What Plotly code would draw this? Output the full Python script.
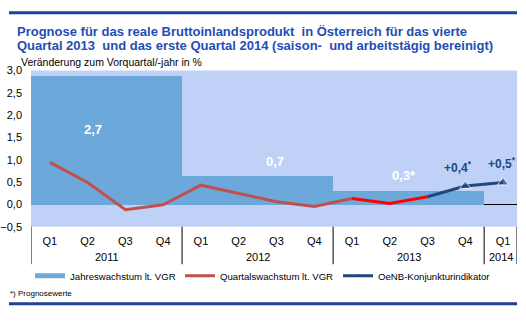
import plotly.graph_objects as go

# ---------------- data ----------------
years = ["2011", "2012", "2013", "2014"]
quarters_per_year = [4, 4, 4, 1]
quarter_labels = ["Q1", "Q2", "Q3", "Q4", "Q1", "Q2", "Q3", "Q4", "Q1", "Q2", "Q3", "Q4", "Q1"]
annual_growth = [2.88, 0.65, 0.31]          # Jahreswachstum lt. VGR (bar heights)
annual_labels = ["2,7", "0,7", "0,3*"]
qoq_growth = [0.94, 0.49, -0.12, -0.01, 0.43, 0.24, 0.06, -0.05, 0.13, 0.02, 0.17]  # Quartalswachstum lt. VGR
oenb_indicator = [0.17, 0.41, 0.49]        # OeNB-Konjunkturindikator (Q3 2013 .. Q1 2014)
oenb_labels = ["+0,4<sup>*</sup>", "+0,5<sup>*</sup>"]

# ---------------- geometry helpers ----------------
W, H = 526, 329
px = lambda v: v / W
py = lambda v: 1 - v / H

x_idx = list(range(len(quarter_labels)))
x_end = 12.37
starts = []
s = 0
for n in quarters_per_year:
    starts.append(s)
    s += n
bar_x = [starts[i] + (quarters_per_year[i] - 1) / 2 for i in range(len(annual_growth))]
bar_w = [quarters_per_year[i] for i in range(len(annual_growth))]

BG = "#BFD1F7"
BAR = "#6CA8DA"
DRED = "#C0504D"
RED = "#FF0000"
NAVY = "#1F497D"
TITLE = "#1F4EB4"
FONT = "Liberation Sans, Arial, sans-serif"

fig = go.Figure()

fig.add_trace(go.Bar(x=bar_x, y=annual_growth, width=bar_w, marker=dict(color=BAR, line=dict(width=0)),
                     showlegend=False, hoverinfo="skip"))

n_dark = 9
fig.add_trace(go.Scatter(x=x_idx[:n_dark], y=qoq_growth[:n_dark], mode="lines",
                         line=dict(color=DRED, width=3), showlegend=False))
fig.add_trace(go.Scatter(x=x_idx[n_dark - 1:len(qoq_growth)], y=qoq_growth[n_dark - 1:], mode="lines",
                         line=dict(color=RED, width=3), showlegend=False))
ox = x_idx[len(qoq_growth) - 1:]
fig.add_trace(go.Scatter(x=ox, y=oenb_indicator, mode="lines+markers",
                         line=dict(color=NAVY, width=3),
                         marker=dict(symbol="triangle-up", size=[0, 10, 10], color=NAVY),
                         showlegend=False))

# legend-only entries
fig.add_trace(go.Scatter(x=[None], y=[None], mode="lines", line=dict(color=BAR, width=5),
                         name="Jahreswachstum lt. VGR", legend="legend"))
fig.add_trace(go.Scatter(x=[None], y=[None], mode="lines", line=dict(color=DRED, width=3),
                         name="Quartalswachstum lt. VGR", legend="legend2"))
fig.add_trace(go.Scatter(x=[None], y=[None], mode="lines+markers", line=dict(color=NAVY, width=3),
                         marker=dict(symbol="triangle-up", size=4, color=NAVY),
                         name="OeNB-Konjunkturindikator", legend="legend3"))

shapes = []
# dividers of the year groups
bounds = [st - 0.5 for st in starts] + [x_end]
for b in bounds:
    shapes.append(dict(type="line", xref="x", yref="paper", x0=b, x1=b, y0=py(229), y1=py(268),
                       line=dict(color="black", width=1)))
# top and bottom rules
for yy in (7, 309):
    shapes.append(dict(type="line", xref="paper", yref="paper", x0=px(9), x1=px(517), y0=py(yy), y1=py(yy),
                       line=dict(color="#1F3F99", width=3)))

ann = []
for i, yname in enumerate(years):
    a, b = bounds[i], bounds[i + 1]
    ann.append(dict(x=(a + b) / 2, y=py(261), xref="x", yref="paper", text=yname, showarrow=False,
                    yanchor="middle", font=dict(size=11, color="black")))
ann.append(dict(x=px(15), y=py(26.5), xref="paper", yref="paper", xanchor="left", yanchor="middle", showarrow=False,
                text="<b>Prognose für das reale Bruttoinlandsprodukt  in Österreich für das vierte</b>",
                font=dict(size=13, color=TITLE)))
ann.append(dict(x=px(15), y=py(40.5), xref="paper", yref="paper", xanchor="left", yanchor="middle", showarrow=False,
                text="<b>Quartal 2013  und das erste Quartal 2014 (saison-  und arbeitstägig bereinigt)</b>",
                font=dict(size=13, color=TITLE)))
ann.append(dict(x=px(19), y=py(58), xref="paper", yref="paper", xanchor="left", yanchor="middle", showarrow=False,
                text="Veränderung zum Vorquartal/-jahr in %", font=dict(size=10.5, color="black")))
ann.append(dict(x=px(8), y=py(298), xref="paper", yref="paper", xanchor="left", yanchor="middle", showarrow=False,
                text="*) Prognosewerte", font=dict(size=8, color="black")))
bar_label_pos = [(1.14, 1.68), (5.96, 0.97), (9.38, 0.65)]
for (lx, ly), t in zip(bar_label_pos, annual_labels):
    ann.append(dict(x=lx, y=ly, xref="x", yref="y", text="<b>%s</b>" % t, showarrow=False,
                    font=dict(size=13, color="white")))
oenb_label_pos = [(10.81, 0.84), (11.98, 0.93)]
for (lx, ly), t in zip(oenb_label_pos, oenb_labels):
    ann.append(dict(x=lx, y=ly, xref="x", yref="y", text="<b>%s</b>" % t, showarrow=False,
                    font=dict(size=12, color=NAVY)))

leg_common = dict(orientation="h", yanchor="middle", xanchor="left", bgcolor="rgba(0,0,0,0)",
                  font=dict(size=9.6, color="black"), borderwidth=0)

fig.update_layout(
    width=W, height=H, margin=dict(l=0, r=0, t=0, b=0),
    paper_bgcolor="white", plot_bgcolor=BG,
    font=dict(family=FONT, size=11, color="black"),
    separators=",.",
    bargap=0,
    xaxis=dict(domain=[px(31), px(517)], range=[-0.5, x_end], tickmode="array", tickvals=x_idx,
               ticktext=quarter_labels, showgrid=False, zeroline=False, showline=False, ticks="",
               ticklabelstandoff=6, tickfont=dict(size=11)),
    yaxis=dict(domain=[py(229), py(67)], range=[-0.5, 3.0], dtick=0.5, tickformat=".1f",
               showgrid=False, zeroline=True, zerolinecolor="black", zerolinewidth=1, showline=False,
               ticks="", ticklabelstandoff=8, tickfont=dict(size=11)),
    shapes=shapes, annotations=ann,
    legend=dict(x=px(30), y=py(280), **leg_common),
    legend2=dict(x=px(180), y=py(280), **leg_common),
    legend3=dict(x=px(338), y=py(280), **leg_common),
)

fig.write_html("out.html")
